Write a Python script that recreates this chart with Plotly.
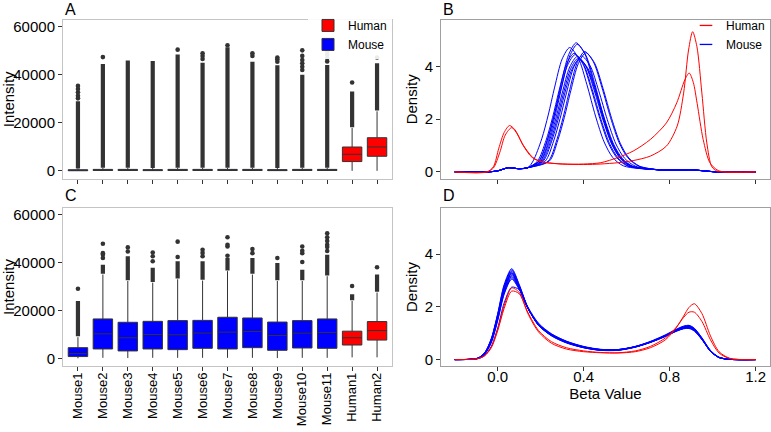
import plotly.graph_objects as go

# ---------------- data ----------------
categories = ["Mouse1", "Mouse2", "Mouse3", "Mouse4", "Mouse5", "Mouse6", "Mouse7",
              "Mouse8", "Mouse9", "Mouse10", "Mouse11", "Human1", "Human2"]

# Panel A: raw intensities (box statistics)
a_q1 = [50, 150, 150, 100, 150, 150, 150, 150, 100, 150, 150, 3860, 6070]
a_median = [200, 300, 300, 250, 300, 300, 300, 300, 250, 300, 300, 6900, 9930]
a_q3 = [450, 600, 600, 500, 600, 600, 600, 600, 500, 600, 600, 9930, 13800]
a_lower = [0, 0, 0, 0, 0, 0, 0, 0, 0, 0, 0, 0, 0]
a_upper = [1000, 1300, 1300, 1200, 1300, 1300, 1300, 1300, 1200, 1300, 1300, 17900, 24800]
a_dense_lo = [1000, 1300, 1300, 1200, 1300, 1300, 1300, 1300, 1200, 1300, 1300, 18200, 25100]
a_dense_hi = [29000, 44500, 46000, 45800, 48500, 45000, 51500, 45500, 44000, 40000, 44100, 33100, 44800]
a_dots = [[30200, 31300, 32700, 34100, 35400], [47400], [], [], [50500],
          [46600, 47800, 49000], [52300], [47900, 49000], [45500, 46500, 47200],
          [42000, 43400, 44800, 46200, 47900, 50200],
          [45600, 47000, 48400, 49800, 51200, 52500, 53800], [36800], [47200]]

# Panel C: normalised intensities (box statistics)
c_q1 = [820, 3980, 3160, 3980, 3700, 4260, 3980, 4530, 3430, 4390, 4260, 5630, 7690]
c_median = [2060, 10300, 8650, 10000, 9900, 10600, 11000, 11260, 9600, 10570, 10850, 8650, 11670]
c_q3 = [4530, 16500, 15100, 15500, 15800, 15900, 17200, 16900, 15200, 15800, 16500, 11400, 15400]
c_lower = [100, 300, 200, 300, 300, 300, 300, 300, 200, 300, 300, 500, 500]
c_upper = [8900, 35000, 32300, 31600, 33000, 32500, 36400, 35000, 32300, 32300, 34300, 24000, 27500]
c_dense_lo = [9300, 35300, 32600, 31900, 33300, 32800, 36700, 35300, 32600, 32600, 34600, 24300, 27800]
c_dense_hi = [24000, 39100, 42600, 37800, 40500, 40500, 41900, 41900, 39800, 37000, 43200, 26800, 35000]
c_dots = [[29100], [41900, 43200, 43900, 47800], [44600, 46300], [40500, 42600, 44200],
          [42300, 48700], [42600, 44000, 45300], [42800, 46700, 47400, 50500],
          [43900, 45600], [41900], [40200, 43900, 44900, 46700],
          [44800, 46500, 47400, 49000, 50500, 52200], [30200], [38000]]

# Panel B: density of raw beta values
b_mouse_pre_x = [-0.2, -0.05, 0.0, 0.05, 0.1, 0.14]
b_mouse_pre_y = [0, 0, 0.04, 0.16, 0.12, 0.16]
b_mouse_post_x = [0.75, 0.85, 0.9, 0.96, 1.02, 1.2]
b_mouse_post_y = [0.08, 0.07, 0.08, 0.04, 0.0, 0.0]
b_mouse_mid_x = [
    [0.165, 0.205, 0.235, 0.265, 0.300, 0.335, 0.375, 0.415, 0.455, 0.495, 0.535, 0.585],
    [0.195, 0.235, 0.265, 0.295, 0.330, 0.365, 0.405, 0.445, 0.485, 0.525, 0.565, 0.615],
    [0.200, 0.240, 0.270, 0.300, 0.335, 0.370, 0.410, 0.450, 0.490, 0.530, 0.570, 0.620],
    [0.235, 0.275, 0.305, 0.335, 0.370, 0.405, 0.445, 0.485, 0.525, 0.565, 0.605, 0.655],
    [0.240, 0.280, 0.310, 0.340, 0.375, 0.410, 0.450, 0.490, 0.530, 0.570, 0.610, 0.660],
    [0.185, 0.225, 0.255, 0.285, 0.320, 0.355, 0.395, 0.435, 0.475, 0.515, 0.555, 0.605],
    [0.190, 0.230, 0.260, 0.290, 0.325, 0.360, 0.400, 0.440, 0.480, 0.520, 0.560, 0.610],
    [0.200, 0.240, 0.270, 0.300, 0.335, 0.370, 0.410, 0.450, 0.490, 0.530, 0.570, 0.620],
    [0.205, 0.245, 0.275, 0.305, 0.340, 0.375, 0.415, 0.455, 0.495, 0.535, 0.575, 0.625],
    [0.210, 0.250, 0.280, 0.310, 0.345, 0.380, 0.420, 0.460, 0.500, 0.540, 0.580, 0.630],
    [0.220, 0.260, 0.290, 0.320, 0.355, 0.390, 0.430, 0.470, 0.510, 0.550, 0.590, 0.640],
]
b_mouse_mid_y = [
    [0.42, 1.26, 2.16, 3.22, 4.29, 4.72, 4.32, 3.31, 2.12, 1.14, 0.55, 0.23],
    [0.44, 1.31, 2.24, 3.34, 4.45, 4.90, 4.48, 3.43, 2.21, 1.19, 0.57, 0.23],
    [0.44, 1.29, 2.22, 3.30, 4.40, 4.84, 4.43, 3.39, 2.18, 1.17, 0.57, 0.23],
    [0.41, 1.22, 2.09, 3.12, 4.15, 4.57, 4.18, 3.20, 2.06, 1.11, 0.54, 0.22],
    [0.41, 1.21, 2.07, 3.08, 4.11, 4.52, 4.14, 3.17, 2.03, 1.09, 0.53, 0.22],
    [0.41, 1.20, 2.06, 3.07, 4.09, 4.50, 4.12, 3.15, 2.03, 1.09, 0.53, 0.22],
    [0.40, 1.19, 2.04, 3.03, 4.05, 4.45, 4.07, 3.12, 2.00, 1.08, 0.53, 0.22],
    [0.39, 1.17, 2.01, 2.99, 3.98, 4.38, 4.01, 3.07, 1.97, 1.06, 0.52, 0.22],
    [0.39, 1.15, 1.98, 2.95, 3.93, 4.32, 3.95, 3.03, 1.94, 1.05, 0.51, 0.21],
    [0.39, 1.14, 1.96, 2.92, 3.89, 4.28, 3.92, 3.00, 1.93, 1.04, 0.51, 0.21],
    [0.40, 1.17, 2.02, 3.00, 4.00, 4.40, 4.03, 3.08, 1.98, 1.06, 0.52, 0.22],
]
b_human_x = [
    [-0.2, -0.05, -0.02, 0.01, 0.035, 0.065, 0.09, 0.12, 0.16, 0.21, 0.3, 0.4, 0.48, 0.56,
     0.63, 0.71, 0.785, 0.835, 0.865, 0.888, 0.907, 0.927, 0.95, 0.973, 0.996, 1.02, 1.05, 1.2],
    [-0.2, -0.05, -0.02, 0.005, 0.03, 0.055, 0.08, 0.12, 0.17, 0.22, 0.3, 0.4, 0.48, 0.56,
     0.63, 0.71, 0.785, 0.833, 0.871, 0.891, 0.91, 0.928, 0.956, 0.987, 1.02, 1.05, 1.2],
]
b_human_y = [
    [0, 0, 0.15, 0.75, 1.4, 1.68, 1.45, 0.98, 0.55, 0.38, 0.3, 0.28, 0.3, 0.35,
     0.43, 0.6, 0.98, 1.74, 2.99, 4.63, 5.32, 4.75, 2.99, 1.1, 0.2, 0.03, 0, 0],
    [0, 0, 0.2, 0.9, 1.5, 1.76, 1.6, 1.0, 0.5, 0.36, 0.3, 0.3, 0.35, 0.55,
     0.79, 1.23, 1.86, 2.62, 3.5, 3.75, 3.4, 2.6, 1.23, 0.35, 0.08, 0, 0],
]

# Panel D: density of normalised beta values
d_x = [-0.2, -0.13, -0.09, -0.06, -0.03, 0.0, 0.03, 0.065, 0.1, 0.14, 0.19, 0.25, 0.32, 0.4,
       0.48, 0.56, 0.64, 0.71, 0.78, 0.83, 0.865, 0.89, 0.915, 0.95, 0.99, 1.03, 1.08, 1.2]
d_mouse_y = [
    [0, 0.01, 0.07, 0.27, 0.8, 1.75, 2.85, 3.45, 2.85, 1.98, 1.3, 0.9, 0.63, 0.45, 0.35, 0.35, 0.47, 0.65, 0.88, 1.08, 1.18, 1.2, 1.1, 0.77, 0.32, 0.08, 0.01, 0],
    [0, 0.01, 0.06, 0.26, 0.78, 1.72, 2.8, 3.40, 2.82, 1.97, 1.3, 0.91, 0.64, 0.45, 0.35, 0.36, 0.48, 0.66, 0.9, 1.1, 1.21, 1.24, 1.13, 0.78, 0.32, 0.08, 0.01, 0],
    [0, 0.01, 0.06, 0.26, 0.77, 1.7, 2.76, 3.35, 2.8, 1.97, 1.31, 0.92, 0.65, 0.46, 0.36, 0.36, 0.48, 0.67, 0.91, 1.12, 1.24, 1.27, 1.16, 0.8, 0.33, 0.08, 0.01, 0],
    [0, 0.01, 0.06, 0.25, 0.75, 1.65, 2.7, 3.3, 2.75, 1.95, 1.3, 0.92, 0.65, 0.46, 0.36, 0.36, 0.48, 0.66, 0.9, 1.1, 1.22, 1.25, 1.15, 0.8, 0.33, 0.08, 0.01, 0],
    [0, 0.01, 0.06, 0.24, 0.73, 1.62, 2.66, 3.25, 2.74, 1.96, 1.32, 0.94, 0.66, 0.47, 0.37, 0.37, 0.49, 0.67, 0.92, 1.13, 1.26, 1.29, 1.18, 0.82, 0.34, 0.09, 0.01, 0],
    [0, 0.01, 0.05, 0.23, 0.7, 1.58, 2.6, 3.2, 2.72, 1.96, 1.33, 0.95, 0.67, 0.47, 0.37, 0.37, 0.48, 0.66, 0.9, 1.1, 1.22, 1.25, 1.15, 0.8, 0.33, 0.08, 0.01, 0],
    [0, 0.01, 0.05, 0.22, 0.68, 1.55, 2.56, 3.15, 2.7, 1.95, 1.33, 0.95, 0.68, 0.48, 0.38, 0.38, 0.49, 0.67, 0.9, 1.1, 1.2, 1.22, 1.12, 0.78, 0.32, 0.08, 0.01, 0],
    [0, 0.01, 0.05, 0.22, 0.66, 1.52, 2.52, 3.1, 2.68, 1.95, 1.34, 0.96, 0.68, 0.48, 0.38, 0.38, 0.5, 0.68, 0.92, 1.12, 1.23, 1.26, 1.15, 0.8, 0.33, 0.08, 0.01, 0],
    [0, 0.01, 0.05, 0.21, 0.64, 1.48, 2.48, 3.05, 2.66, 1.95, 1.35, 0.97, 0.69, 0.49, 0.38, 0.38, 0.49, 0.66, 0.89, 1.08, 1.18, 1.2, 1.1, 0.77, 0.32, 0.08, 0.01, 0],
    [0, 0.01, 0.04, 0.16, 0.5, 1.2, 2.15, 2.75, 2.65, 2.0, 1.38, 0.98, 0.7, 0.5, 0.39, 0.38, 0.48, 0.65, 0.88, 1.07, 1.17, 1.18, 1.08, 0.76, 0.31, 0.08, 0.01, 0],
    [0, 0.01, 0.06, 0.25, 0.74, 1.64, 2.68, 3.28, 2.76, 1.97, 1.31, 0.93, 0.66, 0.47, 0.37, 0.37, 0.5, 0.69, 0.94, 1.15, 1.27, 1.3, 1.19, 0.83, 0.35, 0.09, 0.01, 0],
]
d_human_y = [
    [0, 0.01, 0.04, 0.15, 0.45, 1.1, 1.95, 2.6, 2.5, 1.8, 1.1, 0.68, 0.45, 0.33, 0.27, 0.25, 0.3, 0.45, 0.75, 1.2, 1.65, 1.98, 2.12, 1.75, 0.9, 0.3, 0.05, 0],
    [0, 0.01, 0.04, 0.16, 0.48, 1.15, 2.05, 2.72, 2.55, 1.75, 1.05, 0.62, 0.4, 0.3, 0.26, 0.26, 0.33, 0.5, 0.82, 1.22, 1.6, 1.8, 1.8, 1.45, 0.75, 0.25, 0.04, 0],
]

# ---------------- styling ----------------
FONT = "Liberation Sans, Arial, sans-serif"
RED = "#ff0000"
BLUE = "#0000ff"
DARK = "#333333"

fig = go.Figure()


def add_boxes(xa, ya, q1, med, q3, lo, hi, show):
    groups = [("Human", categories[11:], slice(11, 13), RED, 1),
              ("Mouse", categories[:11], slice(0, 11), BLUE, 2)]
    for name, cats, sl, col, rank in groups:
        fig.add_trace(go.Box(
            x=cats, q1=q1[sl], median=med[sl], q3=q3[sl],
            lowerfence=lo[sl], upperfence=hi[sl],
            boxpoints=False, fillcolor=col, name=name,
            line=dict(color=DARK, width=1), whiskerwidth=0, width=0.78,
            xaxis=xa, yaxis=ya, showlegend=show, legend="legend",
            legendrank=rank, hoverinfo="skip"))


def add_outliers(xa, ya, dlo, dhi, dots):
    lx, ly, px, py = [], [], [], []
    for cat, lo, hi, pts in zip(categories, dlo, dhi, dots):
        lx += [cat, cat, None]
        ly += [lo, hi, None]
        for p in pts:
            px.append(cat)
            py.append(p)
    fig.add_trace(go.Scatter(x=lx, y=ly, mode="lines", line=dict(color=DARK, width=4.2),
                             xaxis=xa, yaxis=ya, showlegend=False, hoverinfo="skip"))
    fig.add_trace(go.Scatter(x=px, y=py, mode="markers",
                             marker=dict(color=DARK, size=4.6, line=dict(width=0)),
                             xaxis=xa, yaxis=ya, showlegend=False, hoverinfo="skip"))


add_boxes("x", "y", a_q1, a_median, a_q3, a_lower, a_upper, True)
add_outliers("x", "y", a_dense_lo, a_dense_hi, a_dots)
add_boxes("x3", "y3", c_q1, c_median, c_q3, c_lower, c_upper, False)
add_outliers("x3", "y3", c_dense_lo, c_dense_hi, c_dots)

# Panel B curves
for mx, my in zip(b_mouse_mid_x, b_mouse_mid_y):
    fig.add_trace(go.Scatter(x=b_mouse_pre_x + mx + b_mouse_post_x,
                             y=b_mouse_pre_y + my + b_mouse_post_y,
                             mode="lines", line=dict(color=BLUE, width=1, shape="spline", smoothing=0.8),
                             xaxis="x2", yaxis="y2", showlegend=False, hoverinfo="skip"))
for hx, hy in zip(b_human_x, b_human_y):
    fig.add_trace(go.Scatter(x=hx, y=hy, mode="lines",
                             line=dict(color=RED, width=1, shape="spline", smoothing=0.8),
                             xaxis="x2", yaxis="y2", showlegend=False, hoverinfo="skip"))

# Panel D curves
for my in d_mouse_y:
    fig.add_trace(go.Scatter(x=d_x, y=my, mode="lines",
                             line=dict(color=BLUE, width=1, shape="spline", smoothing=0.8),
                             xaxis="x4", yaxis="y4", showlegend=False, hoverinfo="skip"))
for hy in d_human_y:
    fig.add_trace(go.Scatter(x=d_x, y=hy, mode="lines",
                             line=dict(color=RED, width=1, shape="spline", smoothing=0.8),
                             xaxis="x4", yaxis="y4", showlegend=False, hoverinfo="skip"))

# legend entries for panel B
for name, col, rank in [("Human", RED, 1), ("Mouse", BLUE, 2)]:
    fig.add_trace(go.Scatter(x=[None], y=[None], mode="markers", name=name,
                             marker=dict(symbol="line-ew", size=9, color=col,
                                         line=dict(width=1.3, color=col)),
                             xaxis="x2", yaxis="y2", legend="legend2", legendrank=rank))

left_dom = [63 / 771, 392 / 771]
right_dom = [441 / 771, 770 / 771]
top_dom = [1 - 178 / 432, 1 - 18 / 432]
bot_dom = [1 - 367 / 432, 1 - 207 / 432]

common = dict(showgrid=False, zeroline=False, showline=True, mirror=True,
              ticks="outside", ticklen=4, tickwidth=1, tickcolor=DARK,
              tickfont=dict(family=FONT, size=15, color="black"))
box_line = dict(linecolor="#c4c4c4", linewidth=1)
den_line = dict(linecolor="#a0a0a0", linewidth=1)

cat_x = dict(type="category", categoryorder="array", categoryarray=categories,
             range=[-0.6, 12.6])
int_y = dict(range=[-3300, 62900], tickvals=[0, 20000, 40000, 60000], tickformat="d",
             title=dict(text="Intensity", standoff=3, font=dict(family=FONT, size=15, color="black")))
den_x = dict(range=[-0.264, 1.267], tickvals=[0, 0.4, 0.8, 1.2], tickformat=".1f")
den_y = dict(range=[-0.26, 5.77], tickvals=[0, 2, 4],
             title=dict(text="Density", standoff=3, font=dict(family=FONT, size=15, color="black")))

fig.update_layout(
    width=771, height=432, margin=dict(l=0, r=0, t=0, b=0),
    paper_bgcolor="white", plot_bgcolor="white",
    font=dict(family=FONT, color="black"),
    xaxis=dict(domain=left_dom, anchor="y", showticklabels=False, **cat_x, **common, **box_line),
    yaxis=dict(domain=top_dom, anchor="x", **int_y, **common, **box_line),
    xaxis2=dict(domain=right_dom, anchor="y2", showticklabels=False, **den_x, **common, **den_line),
    yaxis2=dict(domain=top_dom, anchor="x2", **den_y, **common, **den_line),
    xaxis3=dict(domain=left_dom, anchor="y3", tickangle=-90, ticklabelstandoff=-4, **cat_x,
                **{k: v for k, v in common.items() if k != "tickfont"},
                tickfont=dict(family=FONT, size=13, color="black"), **box_line),
    yaxis3=dict(domain=bot_dom, anchor="x3", **int_y, **common, **box_line),
    xaxis4=dict(domain=right_dom, anchor="y4", ticklabelstandoff=-7, **den_x, **common, **den_line,
                title=dict(text="Beta Value", standoff=0, font=dict(family=FONT, size=15, color="black"))),
    yaxis4=dict(domain=bot_dom, anchor="x4", **den_y, **common, **den_line),
    legend=dict(x=392 / 771, xanchor="right", y=1 - 9 / 432, yanchor="top",
                bgcolor="rgba(255,255,255,0.9)", font=dict(family=FONT, size=12, color="black"),
                tracegroupgap=0, itemwidth=30),
    legend2=dict(x=770 / 771, xanchor="right", y=1 - 9 / 432, yanchor="top",
                 bgcolor="rgba(255,255,255,0)", font=dict(family=FONT, size=12, color="black"),
                 tracegroupgap=0, itemwidth=30),
    showlegend=True,
)

for letter, x, y in [("A", 63, 8), ("B", 441, 8), ("C", 63, 195), ("D", 441, 195)]:
    fig.add_annotation(text=letter, x=x / 771, y=1 - y / 432, xref="paper", yref="paper",
                       xanchor="left", yanchor="middle", showarrow=False,
                       font=dict(family=FONT, size=16, color="black"))

fig.write_html("out.html", config={"displayModeBar": False},
               post_script="document.body.style.margin='0';")
